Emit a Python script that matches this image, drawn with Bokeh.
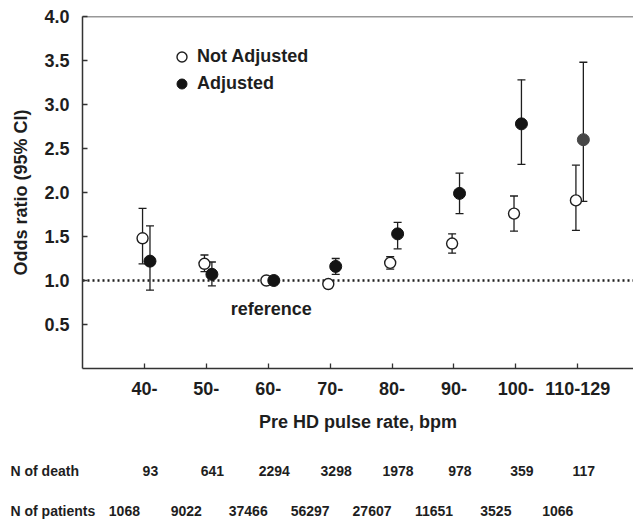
from bokeh.plotting import figure
from bokeh.layouts import column
from bokeh.models import (ColumnDataSource, Range1d, FixedTicker, Whisker, TeeHead, Span,
                          Label, Legend, LegendItem, PrintfTickFormatter)
from bokeh.transform import dodge
from bokeh.core.properties import value
from bokeh.embed import file_html
from bokeh.resources import INLINE

# ---------------- data ----------------
categories = ["40-", "50-", "60-", "70-", "80-", "90-", "100-", "110-129"]

not_adj_or = [1.48, 1.19, 1.00, 0.96, 1.20, 1.42, 1.76, 1.91]
not_adj_lo = [1.19, 1.10, 1.00, 0.93, 1.13, 1.31, 1.56, 1.57]
not_adj_hi = [1.82, 1.29, 1.00, 0.99, 1.27, 1.53, 1.96, 2.31]

adj_or = [1.22, 1.07, 1.00, 1.16, 1.53, 1.99, 2.78, 2.60]
adj_lo = [0.89, 0.94, 1.00, 1.07, 1.36, 1.76, 2.32, 1.90]
adj_hi = [1.62, 1.21, 1.00, 1.25, 1.66, 2.22, 3.28, 3.48]

n_death = ["93", "641", "2294", "3298", "1978", "978", "359", "117"]
n_patients = ["1068", "9022", "37466", "56297", "27607", "11651", "3525", "1066"]
row_headers = ["N of death", "N of patients"]

y_ticks = [0.5, 1.0, 1.5, 2.0, 2.5, 3.0, 3.5, 4.0]

# style (not data)
adj_fill = ["#141414"] * 7 + ["#474747"]

FONT = "Liberation Sans"
INK = "#1e1e1e"

W = 633
MAIN_H = 440
TABLE_H = 82
LEFT = 82
X0, X1 = -1.0, 7.9

idx = list(range(len(categories)))
src_na = ColumnDataSource(dict(x=idx, y=not_adj_or, lo=not_adj_lo, hi=not_adj_hi))
src_a = ColumnDataSource(dict(x=idx, y=adj_or, lo=adj_lo, hi=adj_hi, c=adj_fill))
src_tab = ColumnDataSource(dict(x=idx, death=n_death, pat=n_patients))

p = figure(width=W, height=MAIN_H, x_range=Range1d(X0, X1), y_range=Range1d(0, 4.0),
           output_backend="svg", toolbar_location=None,
           min_border_left=LEFT, min_border_right=0, min_border_top=16, min_border_bottom=72)
p.frame_align = False
p.outline_line_color = None
p.xgrid.visible = False
p.ygrid.visible = False
p.background_fill_color = "white"
p.border_fill_color = "white"

# reference line and top border
p.add_layout(Span(location=1.0, dimension="width", line_color=INK, line_width=2.4,
                  line_dash="2 3", level="underlay"))
p.add_layout(Span(location=4.0, dimension="width", line_color="#333333", line_width=1.5))

OFF_NA = -0.03
OFF_A = 0.09

for src, off in ((src_na, OFF_NA), (src_a, OFF_A)):
    w = Whisker(source=src, base=dodge("x", off), upper="hi", lower="lo",
                line_color=INK, line_width=1.3, level="underlay",
                upper_head=TeeHead(size=8, line_color=INK, line_width=1.3),
                lower_head=TeeHead(size=8, line_color=INK, line_width=1.3))
    p.add_layout(w)

r_na = p.scatter(x=dodge("x", OFF_NA), y="y", source=src_na, size=11, marker="circle",
                 fill_color="white", line_color=INK, line_width=1.4)
r_a = p.scatter(x=dodge("x", OFF_A), y="y", source=src_a, size=12, marker="circle",
                fill_color="c", line_color="c", line_width=1)

legend = Legend(items=[LegendItem(label="Not Adjusted", renderers=[r_na]),
                       LegendItem(label="Adjusted", renderers=[r_a])],
                location=(87, 272), orientation="vertical",
                border_line_color=None, background_fill_alpha=0, padding=0, margin=0,
                glyph_width=25, glyph_height=25, label_height=25, spacing=2, label_standoff=3,
                label_text_font=FONT, label_text_font_size="18px", label_text_font_style="bold",
                label_text_color=INK)
p.add_layout(legend)

# axes
xa = p.xaxis[0]
xa.ticker = FixedTicker(ticks=idx)
xa.major_label_overrides = {i: c for i, c in zip(idx, categories)}
xa.minor_tick_line_color = None
xa.major_tick_in = 5
xa.major_tick_out = 0
xa.major_label_standoff = 13
xa.axis_line_width = 1.5
xa.axis_line_color = "#333333"
xa.major_tick_line_color = "#333333"
xa.major_tick_line_width = 1.3
xa.major_label_text_font = FONT
xa.major_label_text_font_size = "18px"
xa.major_label_text_font_style = "bold"
xa.major_label_text_color = INK
xa.axis_label = "Pre HD pulse rate, bpm"
xa.axis_label_standoff = 14
xa.axis_label_text_font = FONT
xa.axis_label_text_font_size = "18px"
xa.axis_label_text_font_style = "bold"
xa.axis_label_text_color = INK

ya = p.yaxis[0]
ya.ticker = FixedTicker(ticks=y_ticks)
ya.formatter = PrintfTickFormatter(format="%.1f")
ya.minor_tick_line_color = None
ya.major_tick_in = 5
ya.major_tick_out = 0
ya.major_label_standoff = 13
ya.axis_line_width = 1.5
ya.axis_line_color = "#333333"
ya.major_tick_line_color = "#333333"
ya.major_tick_line_width = 1.3
ya.major_label_text_font = FONT
ya.major_label_text_font_size = "18px"
ya.major_label_text_font_style = "bold"
ya.major_label_text_color = INK
ya.axis_label = "Odds ratio (95% CI)"
ya.axis_label_standoff = 10
ya.axis_label_text_font = FONT
ya.axis_label_text_font_size = "18px"
ya.axis_label_text_font_style = "bold"
ya.axis_label_text_color = INK

# "reference" annotation
p.add_layout(Label(x=2, y=0.68, x_offset=3, text="reference", text_align="center",
                   text_baseline="middle", text_font=FONT, text_font_size="18px",
                   text_font_style="bold", text_color=INK))

# ---------------- table below the chart (same horizontal scale) ----------------
px_per_unit = (W - LEFT) / (X1 - X0)
t = figure(width=W, height=TABLE_H,
           x_range=Range1d(X0 - LEFT / px_per_unit, X1),
           y_range=Range1d(1.28, -0.76),
           x_axis_location=None, y_axis_location=None,
           output_backend="svg", toolbar_location=None,
           min_border_left=0, min_border_right=0, min_border_top=0, min_border_bottom=0)
t.frame_align = False
t.xgrid.visible = False
t.ygrid.visible = False
t.outline_line_color = None
t.background_fill_color = "white"
t.border_fill_color = "white"

for row, (col, xoff) in enumerate((("death", 6), ("pat", -20))):
    t.text(x="x", y=row, text=col, source=src_tab, x_offset=xoff,
           text_align="center", text_baseline="middle",
           text_font=value(FONT), text_font_size="14px", text_font_style="bold",
           text_color=INK)
    t.add_layout(Label(x=10, y=row, x_units="screen", text=row_headers[row],
                       text_align="left", text_baseline="middle", text_font=FONT,
                       text_font_size="14px", text_font_style="bold", text_color=INK))

layout = column(p, t, spacing=0)
open("out.html", "w").write(file_html(layout, INLINE))
